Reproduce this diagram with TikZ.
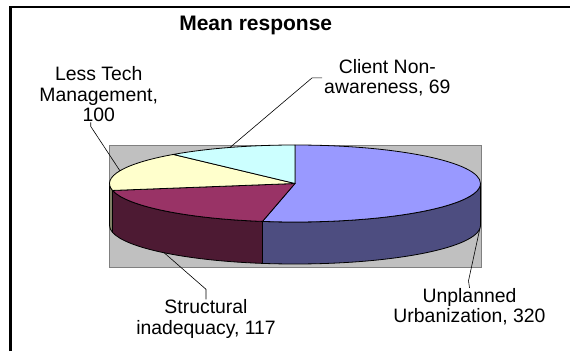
\documentclass[tikz,border=0pt]{standalone}
\usepackage{fontspec}
\setmainfont{Liberation Sans}
\usetikzlibrary{calc}

\definecolor{urbtop}{HTML}{9999FF}
\definecolor{urbside}{HTML}{4D4D80}
\definecolor{strtop}{HTML}{993366}
\definecolor{strside}{HTML}{4D1A33}
\definecolor{lesstop}{HTML}{FFFFCC}
\definecolor{lessside}{HTML}{808066}
\definecolor{clitop}{HTML}{CCFFFF}
\definecolor{plotgray}{HTML}{C0C0C0}

\begin{document}
\begin{tikzpicture}[
        x=1pt, y=1pt,
        pieslice/.style={draw=black, line width=.8pt, line join=round},
        pielabel/.style={align=center, inner xsep=2pt, inner ysep=0pt,
            font=\fontsize{19.4}{20.5}\selectfont},
        leader/.style={draw=black, line width=.6pt},
    ]
    \useasboundingbox (0, 0) rectangle (570, 351);

    % Define pie geometry.
    \def\pierx{185.5}
    \def\piery{38.5}
    \def\piedep{42}
    \coordinate (c) at (295, 167.5);
    \coordinate (cb) at (295, 125.5);

    % Chart frame and plot area.
    \draw[line width=2.5pt] (10.3, 0) -- (10.3, 344) -- (570, 344);
    \filldraw[fill=plotgray, draw=gray] (109.5, 84) rectangle (481.5, 206);

    \node[font=\bfseries\fontsize{21}{24}\selectfont, anchor=base] (title)
        at (255.7, 320.3) {Mean response};

    % Front sides.
    \foreach \a/\b/\col in {-100.099/0/urbside, -169.604/-100.099/strside,
        -180/-169.604/lessside}
    {
        \filldraw[pieslice, fill=\col]
            ($(c)+({\pierx*cos(\a)},{\piery*sin(\a)})$)
            arc[start angle=\a, end angle=\b, x radius=\pierx, y radius=\piery]
            -- ++(0, -\piedep)
            arc[start angle=\b, end angle=\a, x radius=\pierx, y radius=\piery]
            -- cycle;
    }

    % Top faces.
    \foreach \a/\b/\col in {90/-100.099/urbtop, -100.099/-169.604/strtop,
        -169.604/-229.010/lesstop, -229.010/-270/clitop}
    {
        \filldraw[pieslice, fill=\col] (c)
            -- ($(c)+({\pierx*cos(\a)},{\piery*sin(\a)})$)
            arc[start angle=\a, end angle=\b, x radius=\pierx, y radius=\piery]
            -- cycle;
    }

    % Leader ends on the pie.
    \coordinate (pu) at ($(cb)+({\pierx*cos(-5.05)},{\piery*sin(-5.05)})$);
    \coordinate (ps) at ($(cb)+({\pierx*cos(-134.85)},{\piery*sin(-134.85)})$);
    \coordinate (pl) at ($(c)+({\pierx*cos(160.7)},{\piery*sin(160.7)})$);
    \coordinate (pc) at ($(c)+({\pierx*cos(110.5)},{\piery*sin(110.5)})$);

    % Data labels.
    \node[pielabel, anchor=north] (lt) at (98.7, 284.3) {Less Tech\\Management,\\100};
    \node[pielabel, anchor=north] (cn) at (387.3, 291.8) {Client Non-\\awareness, 69};
    \node[pielabel, anchor=north] (si) at (206, 51.7) {Structural\\inadequacy, 117};
    \node[pielabel, anchor=north] (up) at (469.5, 63.2) {Unplanned\\Urbanization, 320};

    \draw[leader] ([xshift=-8pt]lt.south) -- ++(0, -4) -- (pl);
    \draw[leader] (cn.west) -- ++(-10, 0) -- (pc);
    \draw[leader] (si.north) -- ++(0, 10) -- (ps);
    \draw[leader] (up.north) -- ++(-1, 7) -- (pu);
\end{tikzpicture}
\end{document}
